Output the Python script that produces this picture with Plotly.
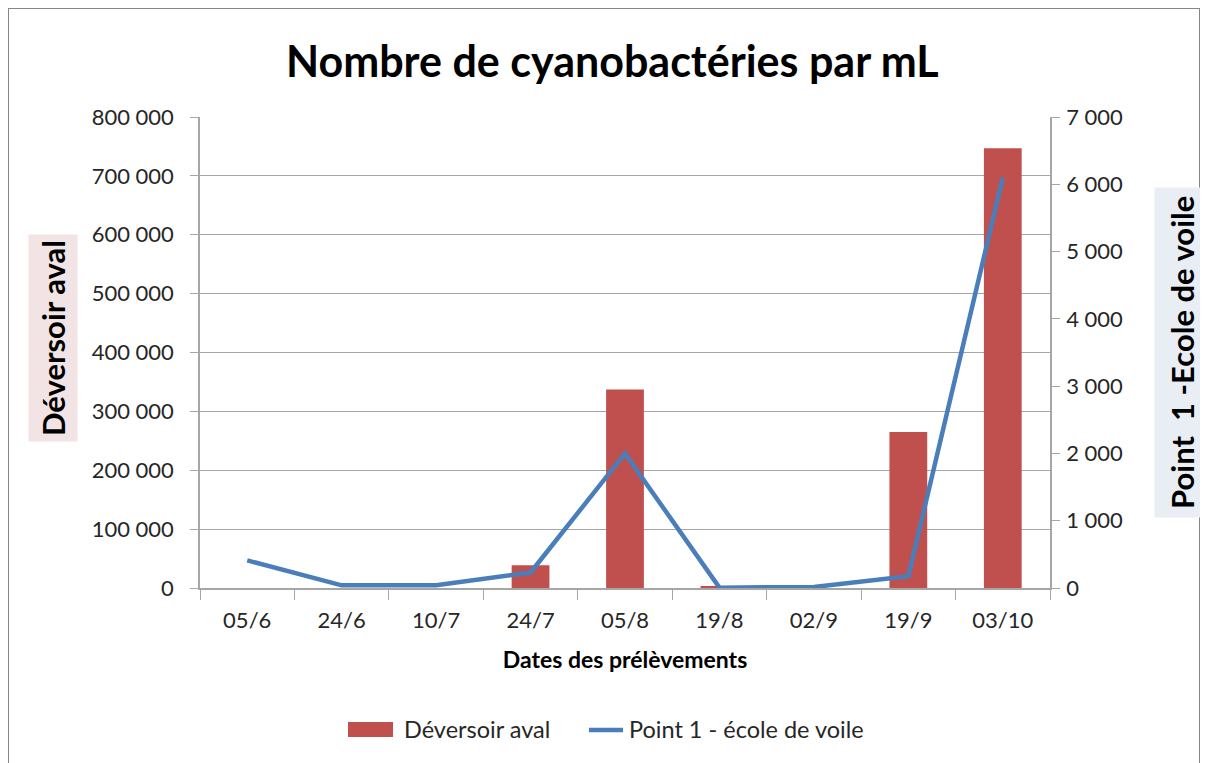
import plotly.graph_objects as go

dates = ["05/6", "24/6", "10/7", "24/7", "05/8", "19/8", "02/9", "19/9", "03/10"]
deversoir = [None, None, None, 38500, 337000, 3000, None, 265000, 747000]
point1 = [410, 40, 40, 230, 2000, 5, 15, 175, 6100]

FONT = "Lato"
TXT = "#262626"
RED = "#c0504d"
BLUE = "#4a7ebb"

fig = go.Figure()
fig.add_trace(go.Bar(x=dates, y=deversoir, name="Déversoir aval",
                     marker=dict(color=RED, line=dict(width=0)),
                     width=0.4, yaxis="y"))
fig.add_trace(go.Scatter(x=dates, y=point1, name="Point 1 - école de voile",
                         mode="lines", line=dict(color=BLUE, width=4.5),
                         yaxis="y2"))

def px(X):
    return (X - 200) / 850

def py(Y):
    return (588 - Y) / 471

fig.update_layout(
    width=1200, height=755,
    margin=dict(l=192, r=158, t=109, b=175),
    paper_bgcolor="white", plot_bgcolor="white",
    separators=", ",
    font=dict(family=FONT, size=22, color=TXT),
    showlegend=False,
    xaxis=dict(type="category", showgrid=False, showline=True, linecolor="#a6a6a6",
               linewidth=1.5, ticks="outside", tickson="boundaries", ticklen=10,
               tickcolor="#a6a6a6", tickfont=dict(size=22, color=TXT), ticklabelstandoff=12,
               title=dict(text="<b>Dates des prélèvements</b>", font=dict(size=23, color="black"),
                          standoff=20)),
    yaxis=dict(range=[0, 800000], dtick=100000, tickformat=",.0f", showgrid=True,
               gridcolor="#a6a6a6", gridwidth=1.2, showline=True, linecolor="#a6a6a6",
               linewidth=1.5, ticks="outside", ticklen=8, tickcolor="#a6a6a6",
               tickfont=dict(size=22, color=TXT), ticklabelstandoff=12, zeroline=False),
    yaxis2=dict(range=[0, 7000], dtick=1000, tickformat=",.0f", overlaying="y", side="right",
                showgrid=False, showline=True, linecolor="#a6a6a6", linewidth=1.5,
                ticks="outside", ticklen=8, tickcolor="#a6a6a6",
                tickfont=dict(size=22, color=TXT), ticklabelstandoff=2, zeroline=False),
)

fig.add_annotation(text="<b>Nombre de cyanobactéries par mL</b>", xref="paper", yref="paper",
                   x=px(612), y=py(60), xanchor="center", yanchor="middle", showarrow=False,
                   font=dict(size=43, color="black"))
fig.add_annotation(text="<b>Déversoir aval</b>", xref="paper", yref="paper",
                   x=px(53), y=py(338), xanchor="center", yanchor="middle",
                   showarrow=False, textangle=-90, bgcolor="#f2e4e4", borderpad=5,
                   font=dict(size=31, color="black"))
fig.add_annotation(text="<b>Point  1 -Ecole de voile</b>", xref="paper", yref="paper",
                   x=px(1182), y=py(353), xanchor="center", yanchor="middle",
                   showarrow=False, textangle=-90, bgcolor="#e9edf4", borderpad=8,
                   font=dict(size=31, color="black"))

# frame
fig.add_shape(type="rect", xref="paper", yref="paper",
              x0=px(8), x1=px(1200), y0=py(775), y1=py(8),
              line=dict(color="#868686", width=2), layer="below")

# legend (drawn manually to match the wide swatches)
fig.add_shape(type="rect", xref="paper", yref="paper",
              x0=px(348), x1=px(393), y0=py(737), y1=py(722),
              fillcolor=RED, line=dict(width=0))
fig.add_annotation(text="Déversoir aval", xref="paper", yref="paper",
                   x=px(402), y=py(729), xanchor="left", yanchor="middle", showarrow=False,
                   font=dict(size=23.5, color=TXT))
fig.add_shape(type="line", xref="paper", yref="paper",
              x0=px(589), x1=px(623), y0=py(730), y1=py(730),
              line=dict(color=BLUE, width=4.5))
fig.add_annotation(text="Point 1 - école de voile", xref="paper", yref="paper",
                   x=px(627), y=py(729), xanchor="left", yanchor="middle", showarrow=False,
                   font=dict(size=23.5, color=TXT))

fig.write_html("out.html")
